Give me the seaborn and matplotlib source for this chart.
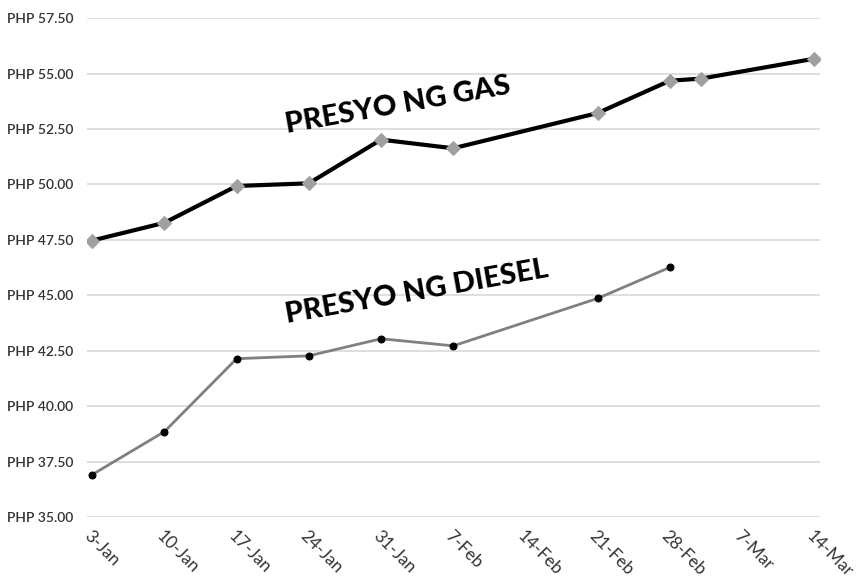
import pandas as pd
import numpy as np
import matplotlib
matplotlib.use("Agg")
import matplotlib.pyplot as plt
import matplotlib.dates as mdates
import seaborn as sns

# gas price readings (date, PHP per litre)
gas_dates = ["2022-01-03", "2022-01-10", "2022-01-17", "2022-01-24", "2022-01-31",
             "2022-02-07", "2022-02-21", "2022-02-28", "2022-03-03", "2022-03-14"]
gas_prices = [47.47, 48.27, 49.93, 50.05, 52.02, 51.63, 53.22, 54.68, 54.77, 55.67]

# diesel price readings
diesel_dates = ["2022-01-03", "2022-01-10", "2022-01-17", "2022-01-24", "2022-01-31",
                "2022-02-07", "2022-02-21", "2022-02-28"]
diesel_prices = [36.91, 38.85, 42.14, 42.27, 43.04, 42.72, 44.86, 46.26]

tick_dates = pd.date_range("2022-01-03", "2022-03-14", freq="7D")
y_ticks = [35.0, 37.5, 40.0, 42.5, 45.0, 47.5, 50.0, 52.5, 55.0, 57.5]

gas = pd.DataFrame({"date": pd.to_datetime(gas_dates), "price": gas_prices})
diesel = pd.DataFrame({"date": pd.to_datetime(diesel_dates), "price": diesel_prices})

sns.set_style("white")
plt.rcParams["font.family"] = ["Lato", "DejaVu Sans"]

fig = plt.figure(figsize=(8.59, 5.85), dpi=100)
ax = fig.add_axes([0.1013, 0.1162, 0.8533, 0.8528])

for y in y_ticks:
    ax.axhline(y, color="#d9d9d9", lw=1.2, zorder=0)

sns.lineplot(data=gas, x="date", y="price", ax=ax, color="black", lw=3,
             marker="D", markersize=7, markerfacecolor="#a0a0a0",
             markeredgecolor="#a0a0a0", zorder=3)
sns.lineplot(data=diesel, x="date", y="price", ax=ax, color="#808080", lw=2,
             marker="o", markersize=5, markerfacecolor="black",
             markeredgecolor="black", zorder=3)

ax.set_xlim(mdates.date2num(tick_dates[0]) - 0.5, mdates.date2num(tick_dates[-1]) + 0.55)
ax.set_ylim(35.0, 57.5)
ax.set_xticks(tick_dates)
ax.xaxis.set_major_formatter(mdates.DateFormatter("%-d-%b"))
ax.set_yticks(y_ticks)
ax.set_yticklabels([f"PHP {v:.2f}" for v in y_ticks])
ax.tick_params(axis="y", labelsize=10, labelcolor="#333333", length=0, pad=10)
ax.tick_params(axis="x", labelsize=12.5, labelcolor="#333333", length=0, pad=8)
for lab in ax.get_yticklabels():
    lab.set_fontweight("semibold")
for lab in ax.get_xticklabels():
    lab.set_rotation(-45)
    lab.set_ha("left")
    lab.set_rotation_mode("anchor")

ax.set_xlabel("")
ax.set_ylabel("")
for s in ax.spines.values():
    s.set_visible(False)

ax.text(mdates.date2num(pd.Timestamp("2022-01-21")) + 0.9, 52.3, "PRESYO NG GAS",
        rotation=10, fontsize=21, fontweight="black", color="black",
        rotation_mode="anchor", ha="left", va="baseline")
ax.text(mdates.date2num(pd.Timestamp("2022-01-21")) + 0.9, 43.75, "PRESYO NG DIESEL",
        rotation=10, fontsize=21, fontweight="black", color="black",
        rotation_mode="anchor", ha="left", va="baseline")

fig.savefig("out.png", dpi=100)
